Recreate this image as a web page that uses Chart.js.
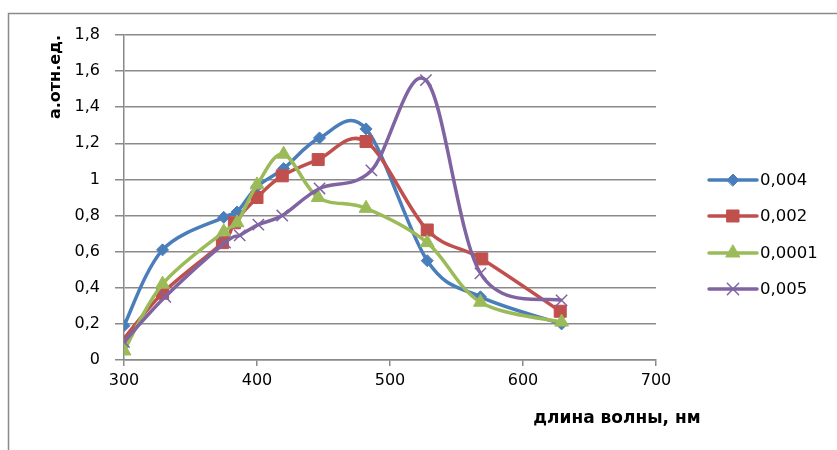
<!DOCTYPE html>
<html>
<head>
<meta charset="utf-8">
<script src="https://cdn.jsdelivr.net/npm/chart.js@4"></script>
<style>
  html, body { margin: 0; padding: 0; background: #fff; }
  #wrap { width: 837px; height: 450px; position: relative; }
</style>
</head>
<body>
<div id="wrap"><canvas id="spectrum"></canvas></div>
<script>
// series labels (concentrations)
const seriesNames = ['0,004', '0,002', '0,0001', '0,005'];

// wavelength, nm, and relative absorbance for each series
const wave004 = [300, 329, 375, 385, 400, 420, 447, 482, 528, 568, 629];
const abs004 = [0.19, 0.61, 0.79, 0.82, 0.96, 1.06, 1.23, 1.28, 0.55, 0.35, 0.20];

const wave002 = [298, 329, 374, 383, 400, 419, 446, 482, 528, 569, 628];
const abs002 = [0.10, 0.37, 0.65, 0.76, 0.90, 1.02, 1.11, 1.21, 0.72, 0.56, 0.27];

const wave0001 = [300, 329, 375, 385, 400, 420, 446, 482, 528, 568, 629];
const abs0001 = [0.05, 0.42, 0.71, 0.76, 0.97, 1.14, 0.90, 0.84, 0.65, 0.32, 0.21];

const wave005 = [300, 331, 376, 387, 401, 419, 447, 486, 527, 568, 629];
const abs005 = [0.10, 0.35, 0.65, 0.69, 0.75, 0.80, 0.95, 1.05, 1.55, 0.48, 0.33];

// axis ticks
const xTicks = [300, 400, 500, 600, 700];
const yTicks = [0, 0.2, 0.4, 0.6, 0.8, 1, 1.2, 1.4, 1.6, 1.8];

const colors = ['#4a7ebb', '#c0504d', '#9bbb59', '#8064a2'];
const markers = ['rectRot', 'rect', 'triangle', 'crossRot'];
const markerSize = [6, 8.5, 8, 8];

function pairs(xs, ys) {
    return xs.map((x, i) => ({ x: x, y: ys[i] }));
}

const allData = [
    pairs(wave004, abs004),
    pairs(wave002, abs002),
    pairs(wave0001, abs0001),
    pairs(wave005, abs005)
];

const datasets = allData.map((d, i) => ({
    label: seriesNames[i],
    data: d,
    borderColor: colors[i],
    backgroundColor: colors[i],
    borderWidth: 3.5,
    tension: 0.4,
    pointStyle: markers[i],
    pointRadius: markerSize[i],
    pointHoverRadius: markerSize[i],
    pointBackgroundColor: colors[i],
    pointBorderColor: colors[i],
    pointBorderWidth: i === 3 ? 1.5 : 1,
    order: 4 - i
}));

const fmt = v => String(Math.round(v * 10) / 10).replace('.', ',');

// excel-like smoothing: uniform catmull-rom control points
const smoothing = {
    id: 'smoothing',
    beforeDatasetDraw(chart, args) {
        const meta = args.meta;
        const line = meta.dataset;
        line.updateControlPoints(chart.chartArea, meta.iScale.axis);
        const pts = meta.data;
        for (let i = 0; i < pts.length; i++) {
            const p = pts[i];
            const prev = pts[i - 1] || p;
            const next = pts[i + 1] || p;
            const dx = (next.x - prev.x) / 6;
            const dy = (next.y - prev.y) / 6;
            p.cp1x = p.x - dx;
            p.cp1y = p.y - dy;
            p.cp2x = p.x + dx;
            p.cp2y = p.y + dy;
        }
    }
};

// frame, axis titles and legend drawn on the canvas
const extras = {
    id: 'extras',
    afterDraw(chart) {
        const c = chart.ctx;
        c.save();
        c.strokeStyle = '#8a8a8a';
        c.lineWidth = 1.5;
        c.beginPath();
        c.moveTo(8.5, 450);
        c.lineTo(8.5, 13.5);
        c.lineTo(837, 13.5);
        c.stroke();

        c.fillStyle = '#000';
        c.font = 'bold 17px "DejaVu Sans"';
        c.textAlign = 'center';
        c.textBaseline = 'middle';
        c.fillText('длина волны, нм', 617, 419);

        c.save();
        c.translate(56, 77);
        c.rotate(-Math.PI / 2);
        c.font = 'bold 16px "DejaVu Sans"';
        c.fillText('а.отн.ед.', 0, 0);
        c.restore();

        const ys = [180, 216, 253, 289];
        c.font = '16.5px "DejaVu Sans"';
        c.textAlign = 'left';
        seriesNames.forEach((name, i) => {
            const y = ys[i];
            c.strokeStyle = colors[i];
            c.lineWidth = 3.5;
            c.lineCap = 'round';
            c.beginPath();
            c.moveTo(709, y);
            c.lineTo(757, y);
            c.stroke();
            c.fillStyle = colors[i];
            c.lineWidth = i === 3 ? 1.5 : 1;
            Chart.helpers.drawPoint(c, {
                pointStyle: markers[i],
                rotation: 0,
                radius: markerSize[i],
                borderWidth: i === 3 ? 1.5 : 1
            }, 733, y);
            c.fillStyle = '#000';
            c.fillText(name, 760, y + 1);
        });
        c.restore();
    }
};

const ctx = document.getElementById('spectrum').getContext('2d');

new Chart(ctx, {
    type: 'line',
    data: { datasets: datasets },
    options: {
        responsive: true,
        maintainAspectRatio: false,
        animation: false,
        layout: {
            padding: { left: 0, top: 35, right: 181, bottom: 0 }
        },
        scales: {
            x: {
                type: 'linear',
                min: 300,
                max: 700,
                afterFit: s => { s.height = 90; },
                afterBuildTicks: s => { s.ticks = xTicks.map(v => ({ value: v })); },
                grid: {
                    drawOnChartArea: false,
                    drawTicks: true,
                    tickLength: 6,
                    color: '#8a8a8a',
                    lineWidth: 1.5
                },
                border: { color: '#8a8a8a', width: 1.5 },
                ticks: {
                    padding: 5,
                    color: '#000',
                    font: { family: 'DejaVu Sans', size: 16 },
                    maxRotation: 0
                }
            },
            y: {
                min: 0,
                max: 1.8,
                afterFit: s => { s.width = 124; },
                afterBuildTicks: s => { s.ticks = yTicks.map(v => ({ value: v })); },
                grid: {
                    tickLength: 9,
                    color: '#8a8a8a',
                    lineWidth: 1.5
                },
                border: { color: '#8a8a8a', width: 1.5 },
                ticks: {
                    padding: 15,
                    color: '#000',
                    font: { family: 'DejaVu Sans', size: 16 },
                    callback: v => fmt(v)
                }
            }
        },
        plugins: {
            legend: { display: false },
            tooltip: { enabled: false }
        }
    },
    plugins: [smoothing, extras]
});
</script>
</body>
</html>
